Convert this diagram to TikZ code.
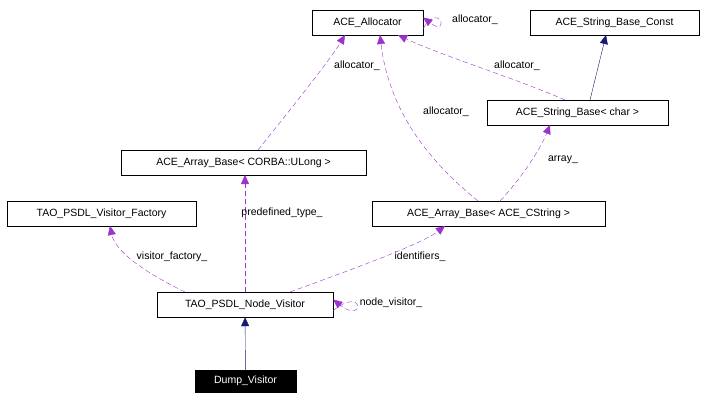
\documentclass[tikz,border=0pt]{standalone}
\usepackage{fontspec}
\setmainfont{Liberation Sans}
\usetikzlibrary{arrows.meta}
\definecolor{mc}{RGB}{154,50,205}
\definecolor{ic}{RGB}{25,25,112}
\begin{document}
\begin{tikzpicture}[x=1pt,y=-1pt,
  box/.style={draw,rectangle,inner sep=0pt,font=\fontsize{10.5}{12}\selectfont},
  lbl/.style={font=\fontsize{10.5}{12}\selectfont,inner sep=1pt},
  mem/.style={draw=mc,dash pattern=on 5pt off 3pt,-{Triangle[length=9pt,width=8pt,fill=mc]}},
  inh/.style={draw=ic,-{Triangle[length=9pt,width=8pt,fill=ic]}}]
\useasboundingbox (0,0) rectangle (710,402);
\node[box,minimum width=111,minimum height=25] (alloc) at (367.5,22.5) {ACE\_Allocator};
\node[box,minimum width=169,minimum height=25] (sbc) at (614.5,22.5) {ACE\_String\_Base\_Const};
\node[box,minimum width=181,minimum height=25] (sb) at (577.5,112.5) {ACE\_String\_Base< char >};
\node[box,minimum width=245,minimum height=25] (abu) at (243.5,162.5) {ACE\_Array\_Base< CORBA::ULong >};
\node[box,minimum width=189,minimum height=25] (vf) at (101.5,213.5) {TAO\_PSDL\_Visitor\_Factory};
\node[box,minimum width=233,minimum height=25] (abc) at (488.5,213.5) {ACE\_Array\_Base< ACE\_CString >};
\node[box,minimum width=176,minimum height=25] (nv) at (245,304.5) {TAO\_PSDL\_Node\_Visitor};
\node[box,fill=black,text=white,minimum width=101,minimum height=22] (dv) at (245.5,381) {Dump\_Visitor};

\draw[mem] ([yshift=-6]alloc.east) .. controls (440,0) and (450,38) .. ([yshift=5]alloc.east);
\node[lbl] (l1) at (475,20) {allocator\_};
\draw[mem] (258,150) .. controls (290,110) and (330,60) .. (345,35);
\node[lbl] (l2) at (357,66) {allocator\_};
\draw[mem] (565,100) .. controls (520,80) and (440,55) .. (398,35);
\node[lbl] (l3) at (517,66) {allocator\_};
\draw[mem] (478,201) .. controls (440,170) and (390,120) .. (380,35);
\node[lbl] (l4) at (446,112) {allocator\_};
\draw[inh] (590,100) -- (606,35);
\draw[mem] (500,201) .. controls (520,180) and (540,150) .. (550,125);
\node[lbl] (l5) at (563,160) {array\_};
\draw[mem] (245,292) -- (245,175);
\node[lbl] (l6) at (282,213) {predefined\_type\_};
\draw[mem] (185,292) .. controls (140,270) and (115,250) .. (110,226);
\node[lbl] (l7) at (172,257) {visitor\_factory\_};
\draw[mem] (290,292) .. controls (350,270) and (420,245) .. (445,226);
\node[lbl] (l8) at (420,257) {identifiers\_};
\draw[mem] ([yshift=-6]nv.east) .. controls (365,285) and (365,325) .. ([yshift=5]nv.east);
\node[lbl] (l9) at (391,303) {node\_visitor\_};
\draw[inh] (dv) -- (nv);
\end{tikzpicture}
\end{document}
